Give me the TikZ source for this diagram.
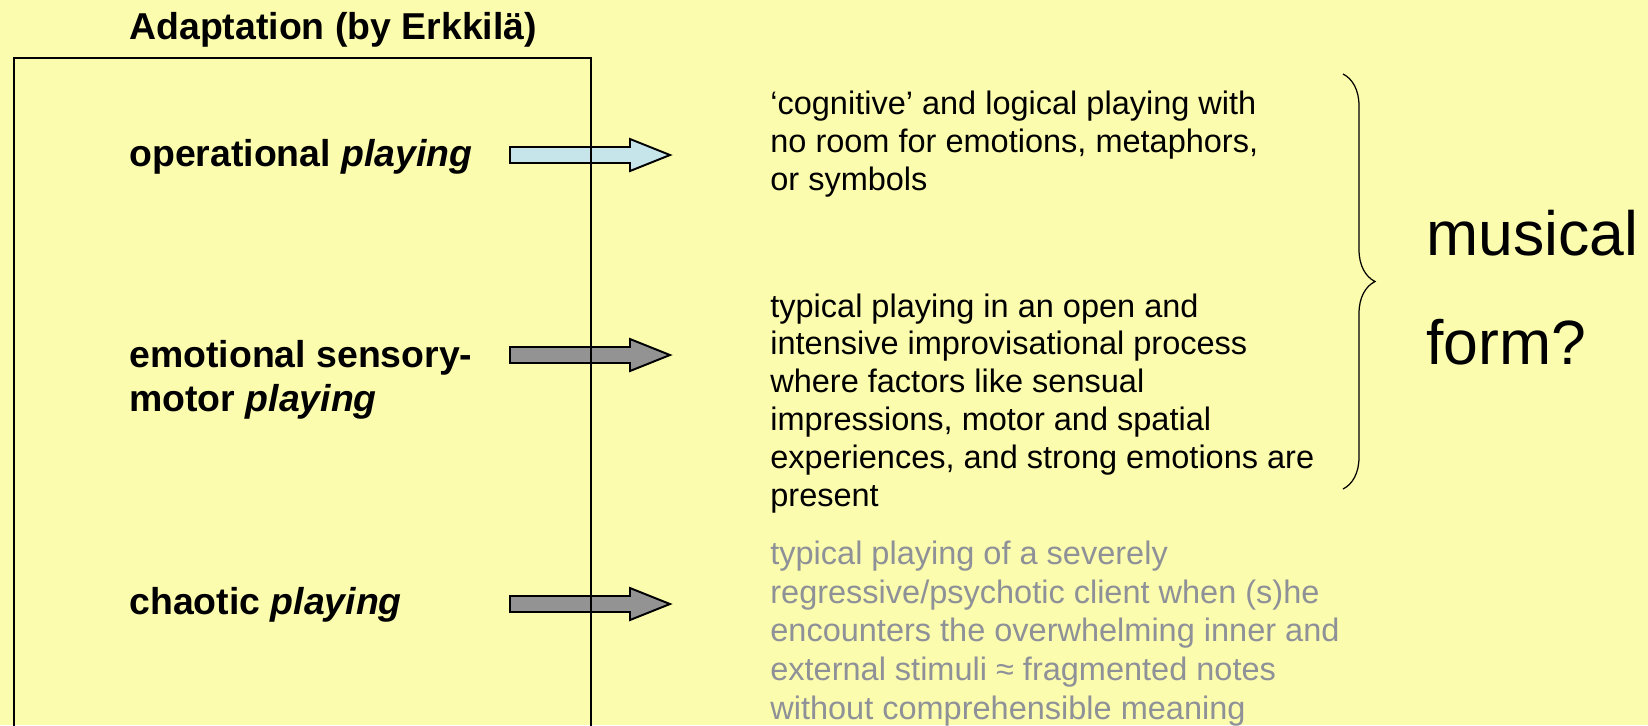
\documentclass[tikz,border=0pt]{standalone}
\usepackage{fontspec}
\setmainfont{Liberation Sans}
\usetikzlibrary{decorations.pathreplacing, positioning}
\definecolor{paper}{HTML}{FCFCAE}
\definecolor{skyfill}{HTML}{C5E5EA}
\definecolor{greyfill}{HTML}{939393}
\definecolor{greytext}{HTML}{8E9197}
\tikzstyle{playlabel} = [
    anchor=base west,
    inner sep=0pt,
    align=left,
    font=\fontsize{21.3}{25}\selectfont\bfseries
]
\tikzstyle{desc} = [
    anchor=base west,
    inner sep=0pt,
    align=left,
    font=\fontsize{18.5}{21.5}\selectfont
]
\tikzstyle{blockarrow} = [
    draw=black,
    line width=1.1pt,
    line join=miter
]
\newcommand{\playarrow}[2]{%
  \filldraw[blockarrow, fill=#2] (510,#1-8) -- (630,#1-8) -- (630,#1-16) -- (670,#1)
    -- (630,#1+16) -- (630,#1+8) -- (510,#1+8) -- cycle;}

\begin{document}
\begin{tikzpicture}[x=0.02cm, y=-0.02cm]

    % Page
    \useasboundingbox (0,0) rectangle (1648,725);
    \clip (0,0) rectangle (1648,725);
    \fill[paper] (0,0) rectangle (1648,725);

    % Title and labels (base = last line)
    \node (title) [playlabel] at (129,39) {Adaptation (by Erkkilä)};
    \node (opLabel) [playlabel] at (129,166) {operational \textit{playing}};
    \node (emoLabel) [playlabel] at (129,411) {emotional sensory-\\motor \textit{playing}};
    \node (chaosLabel) [playlabel] at (129,614) {chaotic \textit{playing}};

    % Block arrows
    \playarrow{155}{skyfill}
    \playarrow{355}{greyfill}
    \playarrow{604}{greyfill}

    % Frame
    \draw[line width=1.1pt] (14,740) -- (14,58) -- (591,58) -- (591,740);

    % Descriptions
    \node (opText) [desc] at (770,190) {‘cognitive’ and logical playing with\\no room for emotions, metaphors,\\or symbols};
    \node (emoText) [desc] at (770,506) {typical playing in an open and\\intensive improvisational process\\where factors like sensual\\impressions, motor and spatial\\experiences, and strong emotions are\\present};
    \node (chaosText) [desc, text=greytext, font=\fontsize{18.5}{22}\selectfont] at (770,719) {typical playing of a severely\\regressive/psychotic client when (s)he\\encounters the overwhelming inner and\\external stimuli ≈ fragmented notes\\without comprehensible meaning};

    % Brace and question
    \coordinate (braceTop) at (1343,74);
    \coordinate (braceBot) at (1343,489);
    \draw[line width=0.7pt, decorate, decoration={brace, amplitude=0.64cm}] (braceTop) -- (braceBot);
    \node (musical) [anchor=base west, inner sep=0pt, align=left, font=\fontsize{35.6}{62}\selectfont] at (1426,364) {musical\\form?};

\end{tikzpicture}
\end{document}
